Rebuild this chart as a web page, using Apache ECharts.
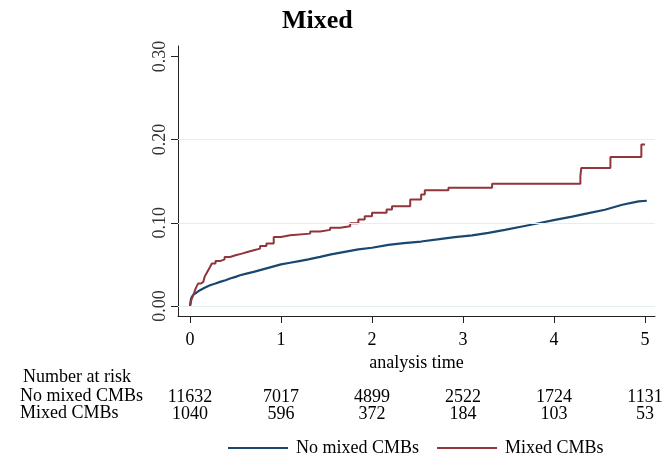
<!DOCTYPE html>
<html>
<head>
<meta charset="utf-8">
<script src="https://cdn.jsdelivr.net/npm/echarts@6/dist/echarts.min.js"></script>
<style>
  html, body { margin: 0; padding: 0; background: #fff; }
  #chart { width: 666px; height: 459px; }
</style>
</head>
<body>
<div id="chart"></div>
<script>
// tick positions and labels
const xTicks = [0, 1, 2, 3, 4, 5];
const yTicks = [0, 0.1, 0.2, 0.3];
const yGrid = [0, 0.1, 0.2];

// number at risk
const riskNo = [11632, 7017, 4899, 2522, 1724, 1131];
const riskMixed = [1040, 596, 372, 184, 103, 53];

// cumulative incidence [time, value]
const noMixed = [
  [0, 0], [0.005, 0.004], [0.01, 0.008], [0.02, 0.011], [0.04, 0.014], [0.07, 0.016],
  [0.11, 0.019], [0.16, 0.022], [0.22, 0.025], [0.28, 0.027], [0.33, 0.029], [0.39, 0.031],
  [0.44, 0.033], [0.5, 0.035], [0.55, 0.037], [0.62, 0.039], [0.7, 0.041], [0.8, 0.044],
  [0.9, 0.047], [1.0, 0.050], [1.1, 0.052], [1.2, 0.054], [1.3, 0.056], [1.43, 0.059],
  [1.55, 0.062], [1.7, 0.065], [1.85, 0.068], [2.0, 0.070], [2.18, 0.0735], [2.35, 0.0755],
  [2.54, 0.0775], [2.72, 0.080], [2.91, 0.0827], [3.1, 0.085], [3.28, 0.088], [3.46, 0.0915],
  [3.65, 0.0956], [3.83, 0.0995], [4.01, 0.1036], [4.2, 0.1075], [4.38, 0.1116], [4.56, 0.1157],
  [4.75, 0.1217], [4.93, 0.1258], [5.02, 0.1265]
];
const mixed = [
  [0, 0], [0.01, 0.005], [0.02, 0.009], [0.04, 0.014], [0.055, 0.019], [0.07, 0.023],
  [0.09, 0.027], [0.12, 0.029], [0.146, 0.031], [0.16, 0.035], [0.18, 0.039], [0.2, 0.043],
  [0.22, 0.047], [0.24, 0.051], [0.28, 0.054], [0.33, 0.056], [0.38, 0.059], [0.44, 0.061],
  [0.5, 0.063], [0.57, 0.065], [0.63, 0.067], [0.7, 0.069], [0.77, 0.072], [0.84, 0.075],
  [0.92, 0.083], [1.0, 0.085], [1.1, 0.087], [1.32, 0.0895], [1.43, 0.0915], [1.54, 0.094],
  [1.65, 0.096], [1.76, 0.0995], [1.85, 0.104], [1.92, 0.108], [2.0, 0.112], [2.16, 0.116],
  [2.22, 0.12], [2.42, 0.128], [2.54, 0.134], [2.58, 0.139], [2.84, 0.142], [3.32, 0.147],
  [4.29, 0.156], [4.30, 0.166], [4.62, 0.179], [4.96, 0.194], [5.0, 0.194]
];

const serif = 'Liberation Serif';
const xMin = -0.132, xMax = 5.11;

function riskAxis(values, offset) {
  return {
    type: 'value', gridIndex: 0, position: 'bottom', offset: offset,
    min: xMin, max: xMax,
    axisLine: { show: false, onZero: false }, axisTick: { show: false }, splitLine: { show: false },
    axisLabel: {
      customValues: xTicks, margin: 14, fontFamily: serif, fontSize: 18, color: '#000',
      formatter: v => String(values[xTicks.indexOf(v)])
    }
  };
}

const chart = echarts.init(document.getElementById('chart'));
chart.setOption({
  animation: false,
  title: {
    text: 'Mixed', left: 277, top: 3,
    textStyle: { fontFamily: serif, fontSize: 26, fontWeight: 'bold', color: '#000' }
  },
  grid: { left: 178, right: 11, top: 46, bottom: 143 },
  legend: {
    left: 223, top: 434, icon: 'rect', itemWidth: 60, itemHeight: 2, itemGap: 18,
    textStyle: { fontFamily: serif, fontSize: 18, color: '#000', padding: [0, 0, 0, 3] },
    data: ['No mixed CMBs', 'Mixed CMBs']
  },
  xAxis: [
    {
      type: 'value', min: xMin, max: xMax,
      name: 'analysis time', nameLocation: 'middle', nameGap: 28,
      nameTextStyle: { fontFamily: serif, fontSize: 18, color: '#000' },
      axisLine: { onZero: false, lineStyle: { color: '#222', width: 1 } },
      axisTick: { customValues: xTicks, length: 7, lineStyle: { color: '#222' } },
      axisLabel: { customValues: xTicks, margin: 15, fontFamily: serif, fontSize: 18, color: '#000' },
      splitLine: { show: false }
    },
    riskAxis(riskNo, 58),
    riskAxis(riskMixed, 75)
  ],
  yAxis: {
    type: 'value', min: -0.012, max: 0.3125,
    axisLine: { show: true, onZero: false, lineStyle: { color: '#222', width: 1 } },
    axisTick: { show: true, customValues: yTicks, length: 7, lineStyle: { color: '#222' } },
    axisLabel: {
      customValues: yTicks, rotate: 90, margin: 9, fontFamily: serif, fontSize: 18, color: '#333',
      formatter: v => v.toFixed(2)
    },
    splitLine: { show: false }
  },
  graphic: [
    { type: 'text', left: 23, top: 368, style: { text: 'Number at risk', font: '18px ' + serif, fill: '#000' } },
    { type: 'text', left: 20, top: 387, style: { text: 'No mixed CMBs', font: '18px ' + serif, fill: '#000' } },
    { type: 'text', left: 20, top: 404, style: { text: 'Mixed CMBs', font: '18px ' + serif, fill: '#000' } }
  ],
  series: [
    {
      name: 'No mixed CMBs', type: 'line', data: noMixed, showSymbol: false, symbol: 'none',
      color: '#1a476f', lineStyle: { color: '#1a476f', width: 2.2 },
      markLine: {
        silent: true, symbol: 'none', label: { show: false },
        lineStyle: { color: '#e3eef1', width: 1, type: 'solid' },
        data: yGrid.map(v => ({ yAxis: v }))
      },
      z: 3
    },
    {
      name: 'Mixed CMBs', type: 'line', data: mixed, step: 'end', showSymbol: false, symbol: 'none',
      color: '#90353b', lineStyle: { color: '#90353b', width: 2 },
      z: 3
    }
  ]
});
</script>
</body>
</html>
